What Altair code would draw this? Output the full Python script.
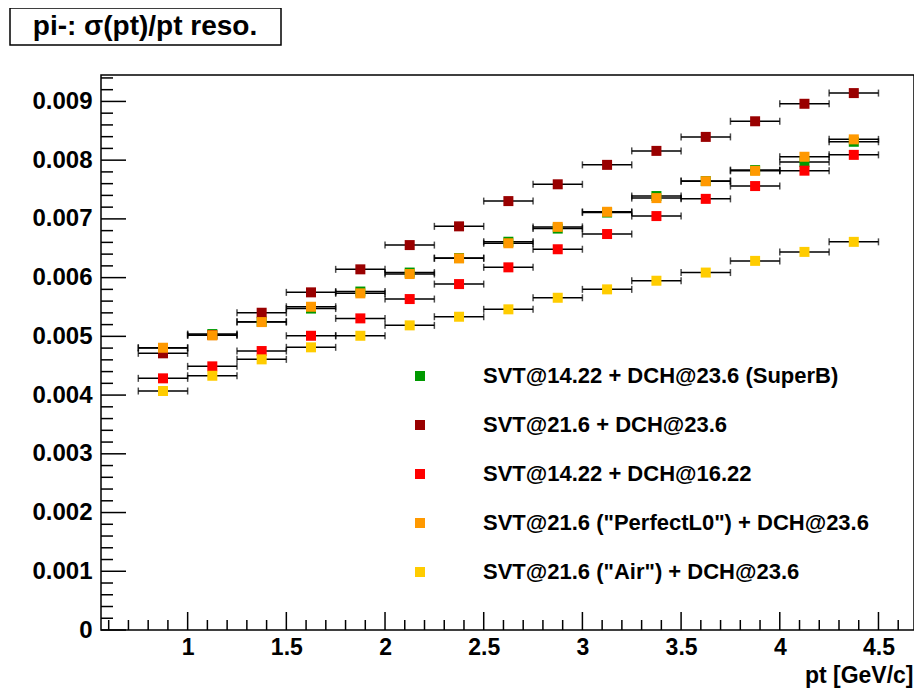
import altair as alt
import pandas as pd

# ---- data ----
pt = [0.875, 1.125, 1.375, 1.625, 1.875, 2.125, 2.375, 2.625,
      2.875, 3.125, 3.375, 3.625, 3.875, 4.125, 4.375]
pt_half_width = 0.125

series_names = [
    "SVT@14.22 + DCH@23.6 (SuperB)",
    "SVT@21.6 + DCH@23.6",
    "SVT@14.22 + DCH@16.22",
    "SVT@21.6 (\"PerfectL0\") + DCH@23.6",
    "SVT@21.6 (\"Air\") + DCH@23.6",
]
series_colors = ["#009900", "#990000", "#ff0000", "#ff9900", "#ffcc00"]

reso_superb = [0.004801, 0.005039, 0.005250, 0.005473, 0.005763, 0.006086, 0.006333, 0.006611,
               0.006835, 0.007108, 0.007389, 0.007644, 0.007831, 0.007967, 0.008313]
reso_svt216 = [0.004711, 0.005022, 0.005402, 0.005749, 0.006141, 0.006554, 0.006873, 0.007303,
               0.007589, 0.007920, 0.008158, 0.008396, 0.008662, 0.008960, 0.009142]
reso_dch1622 = [0.004285, 0.004489, 0.004750, 0.005010, 0.005306, 0.005635, 0.005890, 0.006175,
                0.006483, 0.006742, 0.007048, 0.007341, 0.007559, 0.007821, 0.008090]
reso_perfectl0 = [0.004806, 0.005017, 0.005243, 0.005504, 0.005732, 0.006061, 0.006328, 0.006585,
                  0.006864, 0.007121, 0.007354, 0.007642, 0.007818, 0.008058, 0.008354]
reso_air = [0.004069, 0.004329, 0.004608, 0.004813, 0.005010, 0.005187, 0.005334, 0.005460,
            0.005657, 0.005800, 0.005947, 0.006086, 0.006285, 0.006438, 0.006609]

y_major_ticks = [0.0, 0.001, 0.002, 0.003, 0.004, 0.005, 0.006, 0.007, 0.008, 0.009]
y_minor_ticks = [0.0002, 0.0004, 0.0006, 0.0008, 0.0012, 0.0014, 0.0016, 0.0018,
                 0.0022, 0.0024, 0.0026, 0.0028, 0.0032, 0.0034, 0.0036, 0.0038,
                 0.0042, 0.0044, 0.0046, 0.0048, 0.0052, 0.0054, 0.0056, 0.0058,
                 0.0062, 0.0064, 0.0066, 0.0068, 0.0072, 0.0074, 0.0076, 0.0078,
                 0.0082, 0.0084, 0.0086, 0.0088, 0.0092, 0.0094]
x_major_ticks = [1.0, 1.5, 2.0, 2.5, 3.0, 3.5, 4.0, 4.5]
x_minor_ticks = [0.6, 0.7, 0.8, 0.9, 1.1, 1.2, 1.3, 1.4, 1.6, 1.7, 1.8, 1.9,
                 2.1, 2.2, 2.3, 2.4, 2.6, 2.7, 2.8, 2.9, 3.1, 3.2, 3.3, 3.4,
                 3.6, 3.7, 3.8, 3.9, 4.1, 4.2, 4.3, 4.4, 4.6]

title_text = "pi-: σ(pt)/pt reso."
x_title = "pt [GeV/c]"

# ---- build tables ----
all_series = [reso_superb, reso_svt216, reso_dch1622, reso_perfectl0, reso_air]
rows = []
for k, (name, vals) in enumerate(zip(series_names, all_series)):
    for x, v in zip(pt, vals):
        rows.append({"pt": x, "reso": v, "series": name, "idx": k,
                     "lo": x - pt_half_width, "hi": x + pt_half_width})
df = pd.DataFrame(rows)

W, H = 813, 555
FONT = "Liberation Sans"
xscale = alt.Scale(domain=[0.561, 4.68], nice=False, zero=False)
yscale = alt.Scale(domain=[0, 0.00945], nice=False, zero=False)

base = alt.Chart(df)

xaxis = alt.Axis(values=x_major_ticks, format="~g", ticks=False, domain=False, grid=False,
                 labelFont=FONT, labelFontSize=23, labelFontWeight="bold", labelColor="black",
                 labelPadding=6, title=x_title, titleFont=FONT, titleFontSize=23,
                 titleFontWeight="bold", titleColor="black", titleAnchor="end",
                 titleAlign="right", titleX=812, titleY=52, titleBaseline="alphabetic")
yaxis = alt.Axis(values=y_major_ticks, format="~g", ticks=False, domain=False, grid=False,
                 labelFont=FONT, labelFontSize=24, labelFontWeight="bold", labelColor="black",
                 labelPadding=9, title=None)

bars = base.mark_rule(color="black", strokeWidth=1.5).encode(
    x=alt.X("lo:Q", scale=xscale, axis=xaxis),
    x2="hi:Q",
    y=alt.Y("reso:Q", scale=yscale, axis=yaxis),
)
caps_lo = base.mark_tick(color="black", orient="vertical", size=7, thickness=1.5).encode(
    x=alt.X("lo:Q", scale=xscale), y=alt.Y("reso:Q", scale=yscale))
caps_hi = base.mark_tick(color="black", orient="vertical", size=7, thickness=1.5).encode(
    x=alt.X("hi:Q", scale=xscale), y=alt.Y("reso:Q", scale=yscale))

markers = base.mark_square(size=100, opacity=1, filled=True).encode(
    x=alt.X("pt:Q", scale=xscale),
    y=alt.Y("reso:Q", scale=yscale),
    color=alt.Color("series:N",
                    scale=alt.Scale(domain=series_names, range=series_colors),
                    sort=series_names,
                    legend=alt.Legend(orient="none", legendX=308, legendY=290, title=None,
                                      symbolType="square", symbolSize=100, symbolStrokeWidth=0,
                                      labelFont=FONT, labelFontSize=22, labelFontWeight="bold",
                                      labelColor="black", labelOffset=52, rowPadding=27,
                                      padding=0, labelLimit=600)),
    order=alt.Order("idx:Q"),
)

ytick_major = alt.Chart(pd.DataFrame({"v": y_major_ticks})).mark_rule(color="black", strokeWidth=1.5).encode(
    y=alt.Y("v:Q", scale=yscale), x=alt.value(0), x2=alt.value(25))
ytick_minor = alt.Chart(pd.DataFrame({"v": y_minor_ticks})).mark_rule(color="black", strokeWidth=1.5).encode(
    y=alt.Y("v:Q", scale=yscale), x=alt.value(0), x2=alt.value(12))
xtick_major = alt.Chart(pd.DataFrame({"v": x_major_ticks})).mark_rule(color="black", strokeWidth=1.5).encode(
    x=alt.X("v:Q", scale=xscale), y=alt.value(H), y2=alt.value(H - 18))
xtick_minor = alt.Chart(pd.DataFrame({"v": x_minor_ticks})).mark_rule(color="black", strokeWidth=1.5).encode(
    x=alt.X("v:Q", scale=xscale), y=alt.value(H), y2=alt.value(H - 10))

one = pd.DataFrame({"t": [title_text]})
title_box = alt.Chart(one).mark_rect(fill="white", stroke="black", strokeWidth=1.5, clip=False).encode(
    x=alt.value(-91), x2=alt.value(180), y=alt.value(-67), y2=alt.value(-30))
title_lbl = alt.Chart(one).mark_text(font=FONT, fontSize=28, fontWeight="bold", color="black",
                                     align="center", baseline="middle", clip=False).encode(
    x=alt.value(44), y=alt.value(-48), text="t:N")

chart = alt.layer(
    bars, caps_lo, caps_hi, markers,
    ytick_major, ytick_minor, xtick_major, xtick_minor,
    title_box, title_lbl,
).properties(
    width=W, height=H,
    padding={"left": 93, "top": 67, "right": 0, "bottom": 58},
    autosize=alt.AutoSizeParams(type="none"),
    background="white",
).configure_view(stroke="black", strokeWidth=1.5)

chart.save("out.html", embed_options={"renderer": "svg", "actions": False})
